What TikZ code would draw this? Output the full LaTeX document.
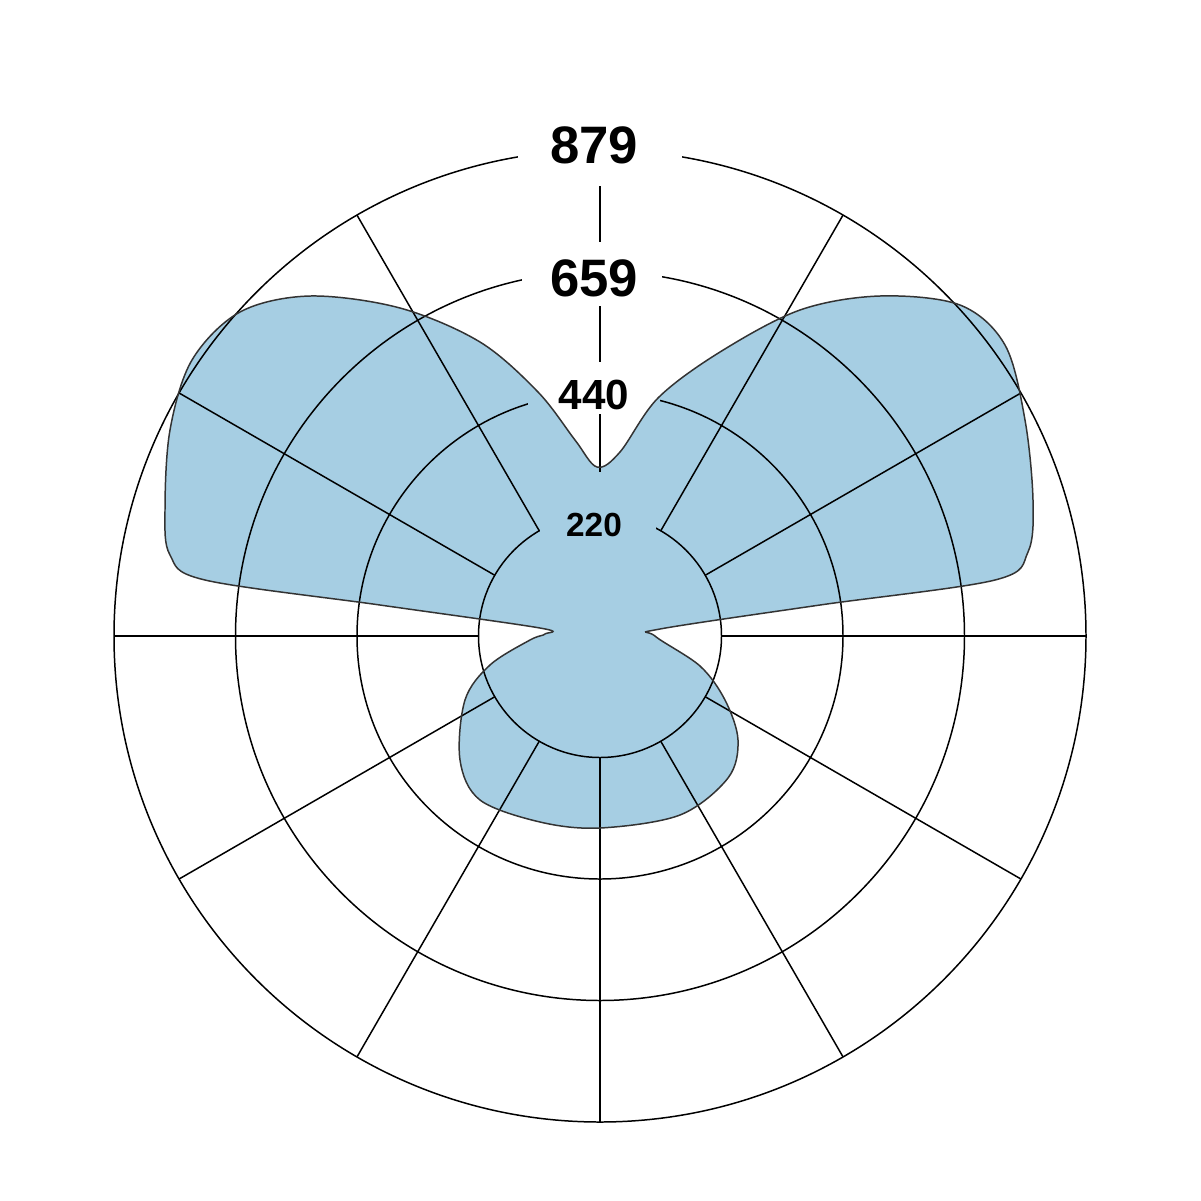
\documentclass[tikz,border=0pt]{standalone}
\usepackage{fontspec}
\setmainfont{Liberation Sans}
\definecolor{blob}{RGB}{166,206,227}
\def\blobpath{plot[smooth cycle,tension=0.55] coordinates {
 (597,467) (575,440) (538,392) (480,342) (400,308) (310,296) (240,312) (192,360) (170,430) (165,510) (170,555) (205,580)
 (380,605) (540,628) (545,634) (530,640) (490,665) (465,700) (460,760) (480,800) (540,822) (600,828) (680,815) (728,778)
 (738,740) (725,700) (700,666) (655,636) (660,629) (820,605) (995,580) (1028,552) (1033,500) (1025,420) (1005,345)
 (960,305) (880,296) (800,310) (720,352) (658,398) (620,452)}}
\begin{document}
\begin{tikzpicture}[x=0.02cm,y=-0.02cm,
 grid/.style={line width=0.85pt,black},
 lab/.style={font=\bfseries,inner sep=0pt}]
\useasboundingbox (0,0) rectangle (1201,1201);
\fill[white] (0,0) rectangle (1201,1201);
\coordinate (c) at (600,636);
\fill[blob] \blobpath;
\foreach \r in {121.5,243,364.5,486} \draw[grid] (c) circle (\r);
\foreach \a in {0,30,...,330} \draw[grid] ({600+121.5*cos(\a)},{636-121.5*sin(\a)}) -- ({600+486*cos(\a)},{636-486*sin(\a)});
% gaps
\fill[white] (518,108) rectangle (682,186);
\fill[white] (522,242) rectangle (662,306);
\fill[white] (528,362) rectangle (660,414);
\fill[white] (540,505) rectangle (656,545);
\begin{scope}
\clip \blobpath;
\fill[blob] (528,362) rectangle (660,414);
\fill[blob] (540,505) rectangle (656,545);
\fill[blob] (590,472) rectangle (610,546);
\end{scope}
\draw[black!80,line width=0.85pt] \blobpath;
\node[lab,font=\bfseries\fontsize{30}{36}\selectfont] (l879) at (594,145) {879};
\node[lab,font=\bfseries\fontsize{30}{36}\selectfont] (l659) at (594,278) {659};
\node[lab,font=\bfseries\fontsize{24}{30}\selectfont] (l440) at (594,395) {440};
\node[lab,font=\bfseries\fontsize{19}{24}\selectfont] (l220) at (594,525) {220};
\end{tikzpicture}
\end{document}
